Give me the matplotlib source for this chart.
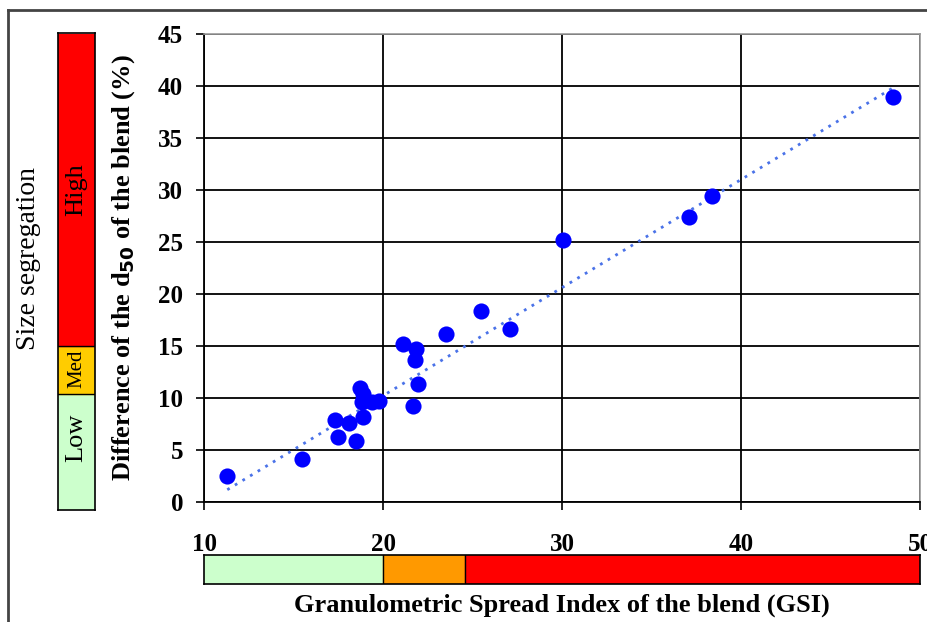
import numpy as np
import matplotlib
matplotlib.use("Agg")
import matplotlib.pyplot as plt
from matplotlib.lines import Line2D

plt.rcParams['font.family'] = ['Liberation Serif', 'DejaVu Serif']

# GSI of the blend vs difference of d50 (%)
gsi = [11.3, 15.5, 17.3, 17.5, 18.1, 18.5, 18.7, 18.9, 18.8, 18.9, 19.4, 19.8,
       21.1, 21.7, 21.8, 21.85, 21.95, 23.5, 25.5, 27.1, 30.05, 37.1, 38.4, 48.5]
d50_diff = [2.5, 4.1, 7.9, 6.25, 7.6, 5.9, 11.0, 10.4, 9.6, 8.2, 9.6, 9.7,
            15.2, 9.2, 13.65, 14.7, 11.3, 16.2, 18.4, 16.6, 25.2, 27.4, 29.4, 38.9]

# segregation classes
gsi_bounds = [10, 20, 24.6, 50]
gsi_colors = ['#ccffcc', '#ff9900', '#ff0000']
seg_bounds = [-0.77, 10.35, 15.0, 45]
seg_colors = ['#ccffcc', '#ffcc00', '#ff0000']
seg_labels = ['Low', 'Med', 'High']
seg_label_y = [6.2, 12.8, 30.0]

W, H = 928, 622
fig = plt.figure(figsize=(W / 100, H / 100), dpi=100)

def box(x0, y0, x1, y1):
    # pixel box -> figure fraction rect
    return [x0 / W, 1 - y1 / H, (x1 - x0) / W, (y1 - y0) / H]

ax = fig.add_axes(box(204, 34, 920, 502))
ax.scatter(gsi, d50_diff, s=135, color='#0000ff', zorder=3, linewidths=0)
k, b = np.polyfit(gsi, d50_diff, 1)
xs = np.array([min(gsi), max(gsi)])
ax.plot(xs, k * xs + b - 0.4, ls=(0, (1, 2.2)), lw=2, color='#4a72e8', zorder=2)

ax.set_xlim(10, 50)
ax.set_ylim(0, 45)
ax.set_xticks([10, 20, 30, 40, 50])
ax.set_yticks(range(0, 46, 5))
ax.grid(True, color='black', lw=1.3)
ax.set_axisbelow(True)
ax.tick_params(axis='both', direction='out', length=6, width=1.2,
               labelsize=18)
ax.tick_params(axis='x', pad=16)
ax.tick_params(axis='y', pad=9)
for lab in ax.get_xticklabels() + ax.get_yticklabels():
    lab.set_fontweight('bold')
ax.spines['left'].set_linewidth(1.3)
ax.spines['bottom'].set_linewidth(1.3)
for s in ['top', 'right']:
    ax.spines[s].set_color('#999999')
    ax.spines[s].set_linewidth(1.2)

ax.set_ylabel('Difference of the d$_{\\mathbf{50}}$ of the blend (%)',
              fontsize=19, fontweight='bold')
ax.yaxis.set_label_coords(-0.094, 0.5)

# horizontal GSI colour bar
axb = fig.add_axes(box(204, 555, 920, 584))
for i, c in enumerate(gsi_colors):
    axb.axvspan(gsi_bounds[i], gsi_bounds[i + 1], color=c)
    if i > 0:
        axb.axvline(gsi_bounds[i], color='black', lw=1)
axb.set_xlim(10, 50)
axb.set_ylim(0, 1)
axb.set_xticks([])
axb.set_yticks([])
for s in axb.spines.values():
    s.set_linewidth(1.2)
axb.set_xlabel('Granulometric Spread Index of the blend (GSI)',
               fontsize=19, fontweight='bold', labelpad=7)

# vertical segregation colour bar
axl = fig.add_axes(box(58, 33, 95, 510))
for i, c in enumerate(seg_colors):
    axl.axhspan(seg_bounds[i], seg_bounds[i + 1], color=c)
    if i > 0:
        axl.axhline(seg_bounds[i], color='black', lw=1)
    axl.text(0.5, seg_label_y[i], seg_labels[i],
             rotation=90, ha='center', va='center',
             fontsize=19 if i != 1 else 15)
axl.set_xlim(0, 1)
axl.set_ylim(seg_bounds[0], 45.1)
axl.set_xticks([])
axl.set_yticks([])
for s in axl.spines.values():
    s.set_linewidth(1.2)

fig.text(29 / W, 1 - 259 / H, 'Size segregation', rotation=90,
         ha='center', va='center', fontsize=20)

# outer frame
fig.add_artist(Line2D([8 / W, 1], [1 - 10 / H, 1 - 10 / H], color='#444444', lw=2))
fig.add_artist(Line2D([8 / W, 8 / W], [0, 1 - 10 / H], color='#444444', lw=2))

fig.savefig('out.png', dpi=100)
